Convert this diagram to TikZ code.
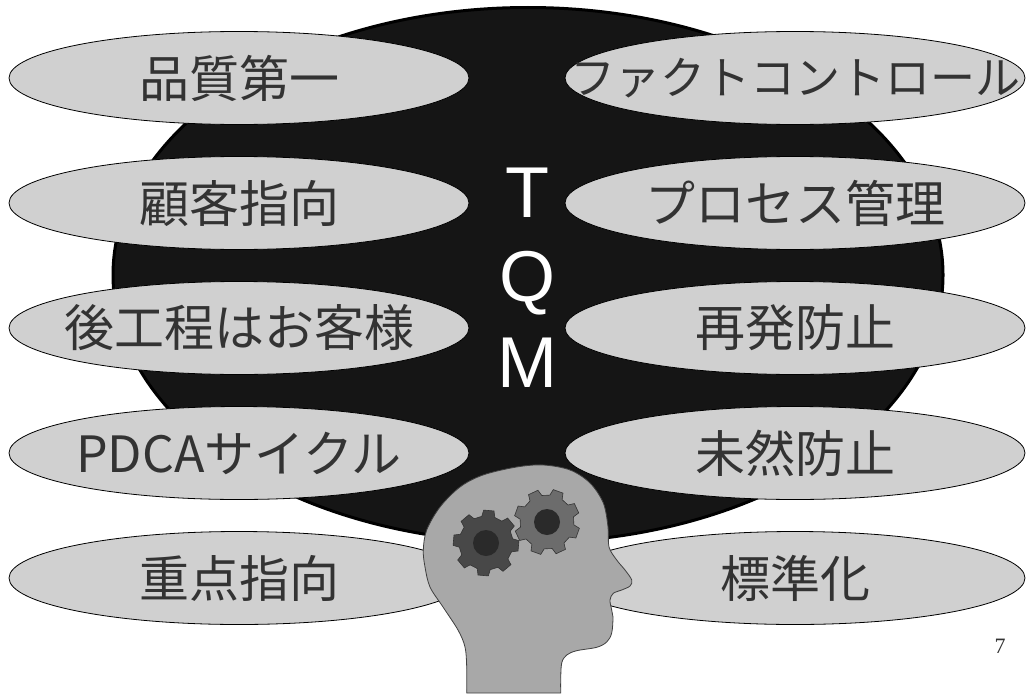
\documentclass[tikz,border=0pt]{standalone}
\usepackage{fontspec}
\setmainfont{Liberation Serif}
\newfontfamily\jpfont{Noto Sans CJK JP}
\newfontfamily\tqmfont{Liberation Sans}
\usetikzlibrary{shapes.geometric}
\definecolor{pillgray}{RGB}{208,208,208}
\definecolor{inkgray}{RGB}{51,51,51}
\definecolor{bigblack}{RGB}{21,21,21}
\definecolor{headgray}{RGB}{168,168,168}
\definecolor{gearleft}{RGB}{72,72,72}
\definecolor{gearright}{RGB}{108,108,108}
\definecolor{gearhole}{RGB}{42,42,42}
\tikzstyle{pill}=[ellipse,fill=pillgray,draw=black,line width=0.8pt,minimum width=460pt,minimum height=93pt,inner sep=0pt,text=inkgray,font=\jpfont\fontsize{50}{50}\selectfont]
\tikzstyle{smallpill}=[pill,font=\jpfont\fontsize{45}{45}\selectfont]
\tikzstyle{letter}=[text=white,anchor=base,font=\tqmfont\fontsize{72}{72}\selectfont]
\tikzstyle{gear}=[draw=black!80,line width=0.6pt]

\begin{document}
\begin{tikzpicture}[x=1pt,y=-1pt]
\useasboundingbox (0,0) rectangle (1027,693);

%TQM
\node[ellipse,fill=bigblack,draw=black,line width=3pt,minimum width=830pt,minimum height=535pt,inner sep=0pt] (tqm) at (528,275) {};

%left column
    \def\lx{239};
    \foreach \pos/\name/\label in {{(\lx,78)/first/品質第一}, {(\lx,203)/customer/顧客指向}, {(\lx,328)/nextstep/後工程はお客様}, {(\lx,453)/pdca/PDCAサイクル}, {(\lx,578)/focus/重点指向}}
        \node[pill] (\name) at \pos {\makebox[0pt]{\label}};

%right column
    \def\rx{795};
    \node[smallpill] (fact) at (\rx,78) {\makebox[0pt]{ファクトコントロール}};
    \foreach \pos/\name/\label in {{(\rx,203)/process/プロセス管理}, {(\rx,328)/recur/再発防止}, {(\rx,453)/prevent/未然防止}, {(\rx,578)/standard/標準化}}
        \node[pill] (\name) at \pos {\makebox[0pt]{\label}};

%T Q M
    \foreach \y/\name/\label in {217/t/T, 301/q/Q, 387/m/M}
        \node[letter] (\name) at (527,\y) {\label};

%head
\draw[draw=black!75,line width=0.8pt,fill=headgray] plot[smooth,tension=0.55] coordinates {(466.7,693) (466.7,667) (465,647) (458,630) (443,607) (430,587) (425,567) (423.3,550) (426.7,530) (440,507) (460,487) (483,475) (516.7,467) (543.3,465) (570,470) (590,483) (603.3,503) (608,527) (609,547) (616.7,560) (625,570) (631.7,580) (630,586) (621.7,590) (613.3,593.3) (610,600) (611.7,610) (613,617) (611.7,633) (606.7,642) (596.7,647.3) (576.7,650.7) (566.7,655) (561.7,663) (560.7,680) (560.7,693)} -- cycle;

%gears
    \foreach \gx/\gy/\gfill/\grot in {486/543/gearleft/5, 547/522/gearright/20}{
        \draw[gear,fill=\gfill,shift={(\gx,\gy)}] (\grot-14:27) \foreach \a in {0,45,...,315}{ -- (\grot+\a-14:27) -- (\grot+\a-9:33) -- (\grot+\a+9:33) -- (\grot+\a+14:27) } -- cycle;
        \fill[gearhole] (\gx,\gy) circle (13);
    }

\node[anchor=base,text=inkgray,font=\fontsize{22}{22}\selectfont] (pageno) at (1000,653) {7};

\end{tikzpicture}
\end{document}
